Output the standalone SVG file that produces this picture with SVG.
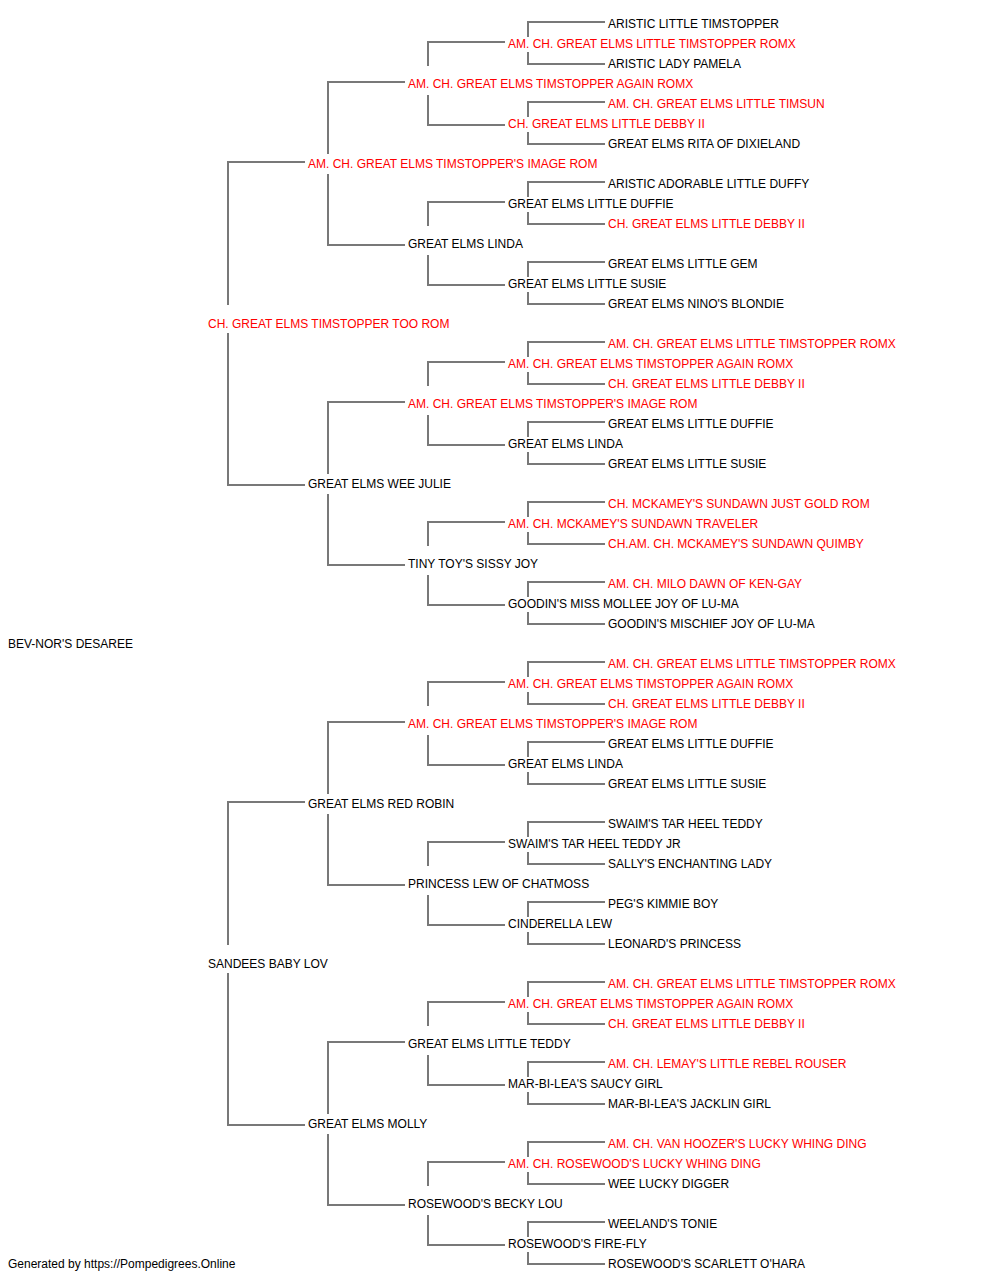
<svg xmlns="http://www.w3.org/2000/svg" width="1000" height="1280" viewBox="0 0 1000 1280">
<style>
text{font-family:"Liberation Sans",Arial,sans-serif;font-size:12px;fill:#000}
.r{fill:#ff0000}
.c{fill:none;stroke:#787878;stroke-width:2}
</style>
<rect width="1000" height="1280" fill="#fff"/>
<g id="connectors" class="c">
<path d="M305 162H228V305M228 333V485H305"/>
<path d="M305 802H228V945M228 973V1125H305"/>
<path d="M405 82H328V154M328 174V245H405"/>
<path d="M405 402H328V474M328 494V565H405"/>
<path d="M405 722H328V794M328 814V885H405"/>
<path d="M405 1042H328V1114M328 1134V1205H405"/>
<path d="M505 42H428V66M428 95V125H505"/>
<path d="M505 202H428V226M428 255V285H505"/>
<path d="M505 362H428V386M428 415V445H505"/>
<path d="M505 522H428V546M428 575V605H505"/>
<path d="M505 682H428V706M428 735V765H505"/>
<path d="M505 842H428V866M428 895V925H505"/>
<path d="M505 1002H428V1026M428 1055V1085H505"/>
<path d="M505 1162H428V1186M428 1215V1245H505"/>
<path d="M605 22H528V37M528 52V64H605"/>
<path d="M605 102H528V117M528 132V144H605"/>
<path d="M605 182H528V197M528 212V224H605"/>
<path d="M605 262H528V277M528 292V304H605"/>
<path d="M605 342H528V357M528 372V384H605"/>
<path d="M605 422H528V437M528 452V464H605"/>
<path d="M605 502H528V517M528 532V544H605"/>
<path d="M605 582H528V597M528 612V624H605"/>
<path d="M605 662H528V677M528 692V704H605"/>
<path d="M605 742H528V757M528 772V784H605"/>
<path d="M605 822H528V837M528 852V864H605"/>
<path d="M605 902H528V917M528 932V944H605"/>
<path d="M605 982H528V997M528 1012V1024H605"/>
<path d="M605 1062H528V1077M528 1092V1104H605"/>
<path d="M605 1142H528V1157M528 1172V1184H605"/>
<path d="M605 1222H528V1237M528 1252V1264H605"/>
</g>
<g id="root"><text x="8" y="648">BEV-NOR'S DESAREE</text></g>
<g id="g1-sire"><text class="r" x="208" y="328">CH. GREAT ELMS TIMSTOPPER TOO ROM</text></g>
<g id="g1-dam"><text x="208" y="968">SANDEES BABY LOV</text></g>
<g id="g2-1"><text class="r" x="308" y="168">AM. CH. GREAT ELMS TIMSTOPPER'S IMAGE ROM</text></g>
<g id="g2-2"><text x="308" y="488">GREAT ELMS WEE JULIE</text></g>
<g id="g2-3"><text x="308" y="808">GREAT ELMS RED ROBIN</text></g>
<g id="g2-4"><text x="308" y="1128">GREAT ELMS MOLLY</text></g>
<g id="g3-1"><text class="r" x="408" y="88">AM. CH. GREAT ELMS TIMSTOPPER AGAIN ROMX</text></g>
<g id="g3-2"><text x="408" y="248">GREAT ELMS LINDA</text></g>
<g id="g3-3"><text class="r" x="408" y="408">AM. CH. GREAT ELMS TIMSTOPPER'S IMAGE ROM</text></g>
<g id="g3-4"><text x="408" y="568">TINY TOY'S SISSY JOY</text></g>
<g id="g3-5"><text class="r" x="408" y="728">AM. CH. GREAT ELMS TIMSTOPPER'S IMAGE ROM</text></g>
<g id="g3-6"><text x="408" y="888">PRINCESS LEW OF CHATMOSS</text></g>
<g id="g3-7"><text x="408" y="1048">GREAT ELMS LITTLE TEDDY</text></g>
<g id="g3-8"><text x="408" y="1208">ROSEWOOD'S BECKY LOU</text></g>
<g id="g4-1"><text class="r" x="508" y="48">AM. CH. GREAT ELMS LITTLE TIMSTOPPER ROMX</text></g>
<g id="g4-2"><text class="r" x="508" y="128">CH. GREAT ELMS LITTLE DEBBY II</text></g>
<g id="g4-3"><text x="508" y="208">GREAT ELMS LITTLE DUFFIE</text></g>
<g id="g4-4"><text x="508" y="288">GREAT ELMS LITTLE SUSIE</text></g>
<g id="g4-5"><text class="r" x="508" y="368">AM. CH. GREAT ELMS TIMSTOPPER AGAIN ROMX</text></g>
<g id="g4-6"><text x="508" y="448">GREAT ELMS LINDA</text></g>
<g id="g4-7"><text class="r" x="508" y="528">AM. CH. MCKAMEY'S SUNDAWN TRAVELER</text></g>
<g id="g4-8"><text x="508" y="608">GOODIN'S MISS MOLLEE JOY OF LU-MA</text></g>
<g id="g4-9"><text class="r" x="508" y="688">AM. CH. GREAT ELMS TIMSTOPPER AGAIN ROMX</text></g>
<g id="g4-10"><text x="508" y="768">GREAT ELMS LINDA</text></g>
<g id="g4-11"><text x="508" y="848">SWAIM'S TAR HEEL TEDDY JR</text></g>
<g id="g4-12"><text x="508" y="928">CINDERELLA LEW</text></g>
<g id="g4-13"><text class="r" x="508" y="1008">AM. CH. GREAT ELMS TIMSTOPPER AGAIN ROMX</text></g>
<g id="g4-14"><text x="508" y="1088">MAR-BI-LEA'S SAUCY GIRL</text></g>
<g id="g4-15"><text class="r" x="508" y="1168">AM. CH. ROSEWOOD'S LUCKY WHING DING</text></g>
<g id="g4-16"><text x="508" y="1248">ROSEWOOD'S FIRE-FLY</text></g>
<g id="g5-1"><text x="608" y="28">ARISTIC LITTLE TIMSTOPPER</text></g>
<g id="g5-2"><text x="608" y="68">ARISTIC LADY PAMELA</text></g>
<g id="g5-3"><text class="r" x="608" y="108">AM. CH. GREAT ELMS LITTLE TIMSUN</text></g>
<g id="g5-4"><text x="608" y="148">GREAT ELMS RITA OF DIXIELAND</text></g>
<g id="g5-5"><text x="608" y="188">ARISTIC ADORABLE LITTLE DUFFY</text></g>
<g id="g5-6"><text class="r" x="608" y="228">CH. GREAT ELMS LITTLE DEBBY II</text></g>
<g id="g5-7"><text x="608" y="268">GREAT ELMS LITTLE GEM</text></g>
<g id="g5-8"><text x="608" y="308">GREAT ELMS NINO'S BLONDIE</text></g>
<g id="g5-9"><text class="r" x="608" y="348">AM. CH. GREAT ELMS LITTLE TIMSTOPPER ROMX</text></g>
<g id="g5-10"><text class="r" x="608" y="388">CH. GREAT ELMS LITTLE DEBBY II</text></g>
<g id="g5-11"><text x="608" y="428">GREAT ELMS LITTLE DUFFIE</text></g>
<g id="g5-12"><text x="608" y="468">GREAT ELMS LITTLE SUSIE</text></g>
<g id="g5-13"><text class="r" x="608" y="508">CH. MCKAMEY'S SUNDAWN JUST GOLD ROM</text></g>
<g id="g5-14"><text class="r" x="608" y="548">CH.AM. CH. MCKAMEY'S SUNDAWN QUIMBY</text></g>
<g id="g5-15"><text class="r" x="608" y="588">AM. CH. MILO DAWN OF KEN-GAY</text></g>
<g id="g5-16"><text x="608" y="628">GOODIN'S MISCHIEF JOY OF LU-MA</text></g>
<g id="g5-17"><text class="r" x="608" y="668">AM. CH. GREAT ELMS LITTLE TIMSTOPPER ROMX</text></g>
<g id="g5-18"><text class="r" x="608" y="708">CH. GREAT ELMS LITTLE DEBBY II</text></g>
<g id="g5-19"><text x="608" y="748">GREAT ELMS LITTLE DUFFIE</text></g>
<g id="g5-20"><text x="608" y="788">GREAT ELMS LITTLE SUSIE</text></g>
<g id="g5-21"><text x="608" y="828">SWAIM'S TAR HEEL TEDDY</text></g>
<g id="g5-22"><text x="608" y="868">SALLY'S ENCHANTING LADY</text></g>
<g id="g5-23"><text x="608" y="908">PEG'S KIMMIE BOY</text></g>
<g id="g5-24"><text x="608" y="948">LEONARD'S PRINCESS</text></g>
<g id="g5-25"><text class="r" x="608" y="988">AM. CH. GREAT ELMS LITTLE TIMSTOPPER ROMX</text></g>
<g id="g5-26"><text class="r" x="608" y="1028">CH. GREAT ELMS LITTLE DEBBY II</text></g>
<g id="g5-27"><text class="r" x="608" y="1068">AM. CH. LEMAY'S LITTLE REBEL ROUSER</text></g>
<g id="g5-28"><text x="608" y="1108">MAR-BI-LEA'S JACKLIN GIRL</text></g>
<g id="g5-29"><text class="r" x="608" y="1148">AM. CH. VAN HOOZER'S LUCKY WHING DING</text></g>
<g id="g5-30"><text x="608" y="1188">WEE LUCKY DIGGER</text></g>
<g id="g5-31"><text x="608" y="1228">WEELAND'S TONIE</text></g>
<g id="g5-32"><text x="608" y="1268">ROSEWOOD'S SCARLETT O'HARA</text></g>
<g id="footer"><text x="8" y="1268">Generated by https://Pompedigrees.Online</text></g>
</svg>
